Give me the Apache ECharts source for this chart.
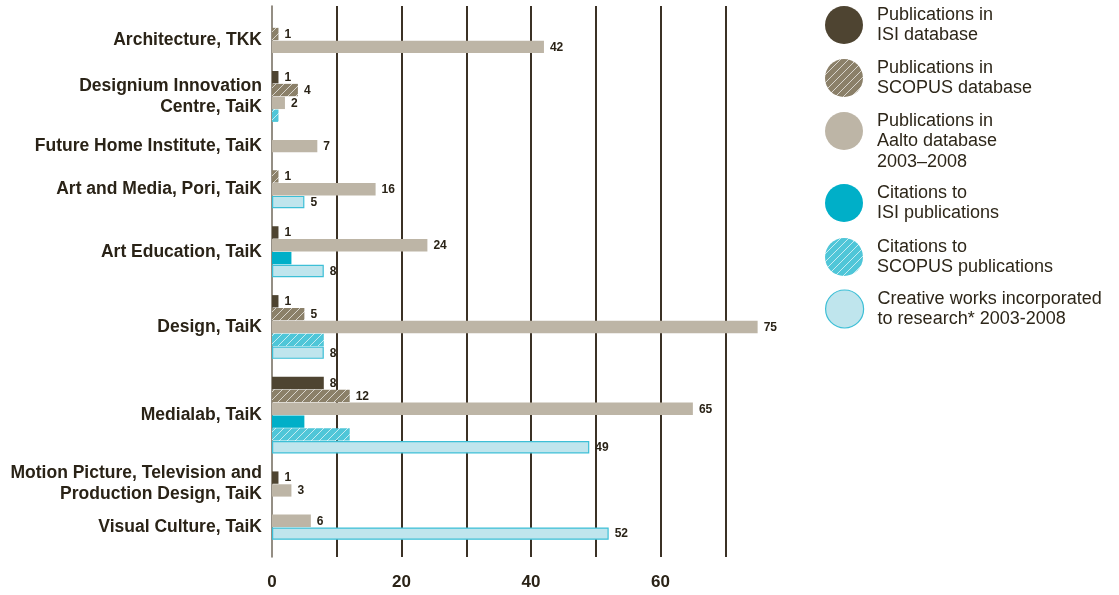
<!DOCTYPE html>
<html>
<head>
<meta charset="utf-8">
<script src="https://cdn.jsdelivr.net/npm/echarts@6/dist/echarts.min.js"></script>
<style>
  html, body { margin: 0; padding: 0; background: #ffffff; }
  #chart { width: 1119px; height: 595px; }
</style>
</head>
<body>
<div id="chart"></div>
<script>
// Units (rows top to bottom)
const categories = [
  'Architecture, TKK',
  'Designium Innovation\nCentre, TaiK',
  'Future Home Institute, TaiK',
  'Art and Media, Pori, TaiK',
  'Art Education, TaiK',
  'Design, TaiK',
  'Medialab, TaiK',
  'Motion Picture, Television and\nProduction Design, TaiK',
  'Visual Culture, TaiK'
];

// Counts per unit; 0 means no bar for that unit
const isiPublications    = [0, 1, 0, 0, 1, 1, 8, 1, 0];
const scopusPublications = [1, 4, 0, 1, 0, 5, 12, 0, 0];
const aaltoPublications  = [42, 2, 7, 16, 24, 75, 65, 3, 6];
const isiCitations       = [0, 0, 0, 0, 3, 0, 5, 0, 0];
const scopusCitations    = [0, 1, 0, 0, 0, 8, 12, 0, 0];
const creativeWorks      = [0, 0, 0, 5, 8, 8, 49, 0, 52];

const seriesNames = [
  'Publications in\nISI database',
  'Publications in\nSCOPUS database',
  'Publications in\nAalto database\n2003–2008',
  'Citations to\nISI publications',
  'Citations to\nSCOPUS publications',
  'Creative works incorporated\nto research* 2003-2008'
];

const xTickLabels = [0, 20, 40, 60];

const seriesValues = [isiPublications, scopusPublications, aaltoPublications,
                      isiCitations, scopusCitations, creativeWorks];

// Diagonal white hatching on a solid colour
function hatch(bg) {
  const c = document.createElement('canvas');
  c.width = 8; c.height = 8;
  const g = c.getContext('2d');
  g.fillStyle = bg;
  g.fillRect(0, 0, 8, 8);
  g.strokeStyle = 'rgba(255,255,255,0.75)';
  g.lineWidth = 0.9;
  g.beginPath();
  g.moveTo(-1, 9); g.lineTo(9, -1);
  g.moveTo(-1, 1); g.lineTo(1, -1);
  g.moveTo(7, 9); g.lineTo(9, 7);
  g.stroke();
  return { image: c, repeat: 'repeat' };
}

const TEXT = '#2a2317';
const FONT = '"Liberation Sans", Arial, sans-serif';
const styles = [
  { fill: '#4e4431', label: true },
  { fill: hatch('#8b8069'), label: true },
  { fill: '#bdb5a6', label: true },
  { fill: '#00afc8', label: false },
  { fill: hatch('#4fc6d8'), label: false },
  { fill: '#bfe5ed', stroke: '#3dbfd6', label: true }
];

// Stack the non-empty bars of each unit, leaving a gap between units
const GROUP_GAP = 1.36;
const seriesData = seriesValues.map(() => []);
const groupCenters = [];
let pos = 0;
categories.forEach((cat, g) => {
  const first = pos;
  seriesValues.forEach((vals, s) => {
    if (vals[g] > 0) {
      seriesData[s].push([vals[g], pos]);
      pos += 1;
    }
  });
  groupCenters.push((first + pos - 1) / 2);
  pos += GROUP_GAP;
});
const lastPos = pos - 1 - GROUP_GAP;

const chart = echarts.init(document.getElementById('chart'), null, { renderer: 'canvas' });

const series = seriesNames.map((name, s) => ({
  type: 'custom',
  name: name,
  data: seriesData[s],
  encode: { x: 0, y: 1 },
  itemStyle: { color: styles[s].fill, borderColor: styles[s].stroke || styles[s].fill },
  renderItem: (params, api) => {
    const v = api.value(0), p = api.value(1);
    const a = api.coord([0, p]);
    const b = api.coord([v, p]);
    const h = api.size([0, 1])[1] * 0.96;
    const st = styles[s];
    const inset = st.stroke ? 0.6 : 0;
    const children = [{
      type: 'rect',
      shape: { x: a[0] + inset, y: a[1] - h / 2 + inset, width: b[0] - a[0] - 2 * inset, height: h - 2 * inset },
      style: st.stroke ? { fill: st.fill, stroke: st.stroke, lineWidth: 1.2 } : { fill: st.fill }
    }];
    if (st.label) {
      children.push({
        type: 'text',
        x: b[0] + 6, y: b[1] + 0.5,
        style: {
          text: String(v), fill: TEXT, fontSize: 12, fontWeight: 'bold',
          fontFamily: FONT, verticalAlign: 'middle', align: 'left'
        }
      });
    }
    return { type: 'group', children };
  }
}));

// One legend block per series so each circle sits level with the first two lines
const LEGEND_LINE = 20.5;
const legendCenters = [25, 78, 131, 203, 257, 309];
const legends = seriesNames.map((name, s) => {
  const three = name.split('\n').length === 3;
  return {
    left: 825,
    top: legendCenters[s] - (three ? 2 * LEGEND_LINE : LEGEND_LINE),
    padding: 0,
    orient: 'vertical',
    itemWidth: 38,
    itemHeight: 38,
    // a blank first line keeps a three-line label hanging from the circle's top half
    formatter: three ? (n) => '\n' + n : null,
    data: [{
      name: name,
      icon: 'circle',
      itemStyle: styles[s].stroke
        ? { color: styles[s].fill, borderColor: styles[s].stroke, borderWidth: 1.2 }
        : { color: styles[s].fill, borderWidth: 0 }
    }],
    textStyle: {
      fontSize: 18, lineHeight: LEGEND_LINE, color: '#2d2619',
      fontFamily: FONT,
      padding: [0, 0, 0, 9]
    }
  };
});

chart.setOption({
  animation: false,
  backgroundColor: '#ffffff',
  grid: { left: 272, right: 329, top: 6, bottom: 38, containLabel: false, outerBoundsMode: 'none' },
  legend: legends,
  xAxis: {
    type: 'value',
    min: 0, max: 80, interval: 10,
    axisLine: { show: false },
    axisTick: { show: false },
    splitLine: { show: true, showMinLine: false, showMaxLine: false, lineStyle: { color: '#3b3125', width: 2 } },
    axisLabel: {
      margin: 17,
      color: TEXT, fontSize: 17, fontWeight: 'bold',
      fontFamily: FONT,
      formatter: (v) => xTickLabels.indexOf(v) >= 0 ? String(v) : ''
    }
  },
  yAxis: {
    type: 'value',
    inverse: true,
    min: -2.18,
    max: lastPos + 1.82,
    splitLine: { show: false },
    axisTick: { show: false },
    axisLine: { show: true, lineStyle: { color: '#70685b', width: 1.5 } },
    axisLabel: {
      customValues: groupCenters,
      margin: 10,
      color: TEXT, fontSize: 17.5, fontWeight: 'bold', lineHeight: 21,
      fontFamily: FONT,
      formatter: (v) => {
        const g = groupCenters.findIndex(c => Math.abs(c - v) < 1e-6);
        return g >= 0 ? categories[g] : '';
      }
    }
  },
  series: series
});
</script>
</body>
</html>
